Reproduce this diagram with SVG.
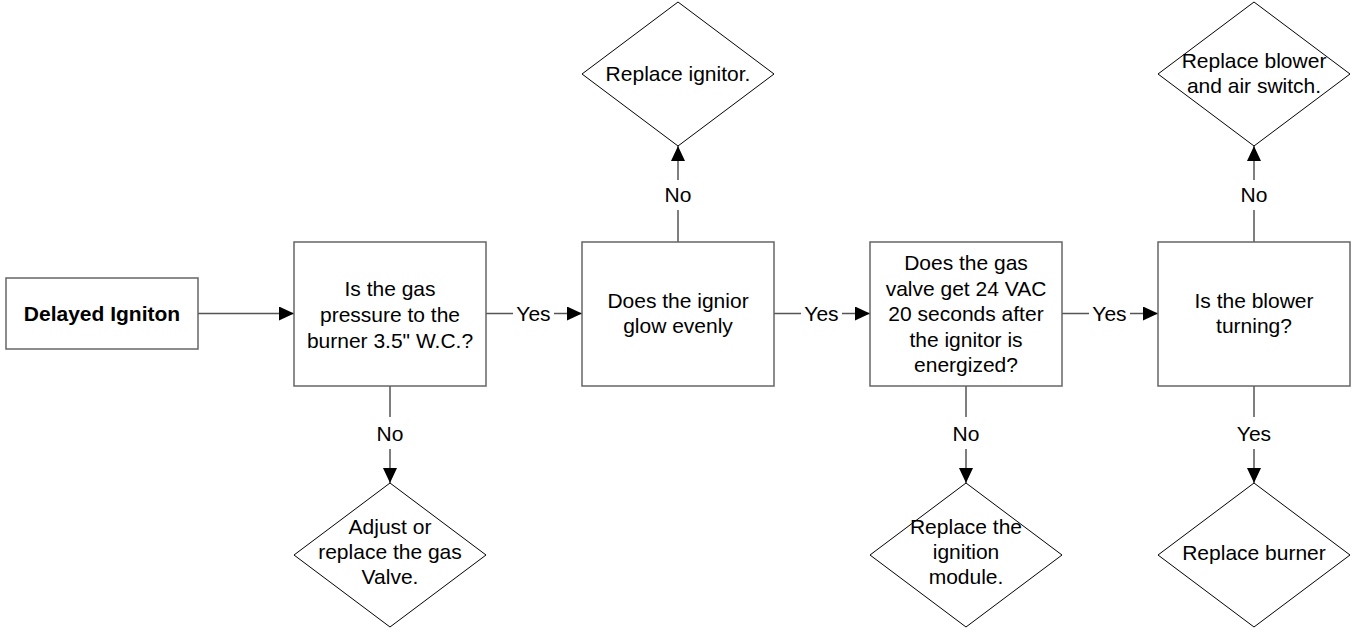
<svg xmlns="http://www.w3.org/2000/svg" width="1355" height="634" viewBox="0 0 1355 634">
<defs>
<marker id="ah" markerUnits="userSpaceOnUse" markerWidth="16" markerHeight="14" refX="15" refY="7" orient="auto">
<path d="M0,0 L15,7 L0,14 Z" fill="#000"/>
</marker>
</defs>
<style>
.box{fill:#fff;stroke:#666;stroke-width:1.5}
.dia{fill:#fff;stroke:#000;stroke-width:1}
.t{font-family:"Liberation Sans",Arial,sans-serif;font-size:21px;fill:#000;text-anchor:middle}
.b{font-weight:bold}
.c{fill:none;stroke:#555;stroke-width:1.5}
.ca{fill:none;stroke:#555;stroke-width:1.5;marker-end:url(#ah)}
</style>
<rect width="1355" height="634" fill="#fff"/>
<g id="connectors">
<path class="ca" d="M198,313.5 H294"/>
<path class="c" d="M486,313.5 H513"/>
<path class="ca" d="M554,313.5 H582"/>
<text class="t" x="533.5" y="321">Yes</text>
<path class="c" d="M774,313.5 H801"/>
<path class="ca" d="M842,313.5 H870"/>
<text class="t" x="821.5" y="321">Yes</text>
<path class="c" d="M1062,313.5 H1089"/>
<path class="ca" d="M1130,313.5 H1158"/>
<text class="t" x="1109.5" y="321">Yes</text>
<path class="c" d="M390,386 V417"/>
<path class="ca" d="M390,449 V483"/>
<text class="t" x="390" y="441">No</text>
<path class="c" d="M966,386 V417"/>
<path class="ca" d="M966,449 V483"/>
<text class="t" x="966" y="441">No</text>
<path class="c" d="M1254,386 V417"/>
<path class="ca" d="M1254,449 V483"/>
<text class="t" x="1254" y="441">Yes</text>
<path class="c" d="M678,242 V210"/>
<path class="ca" d="M678,180 V146"/>
<text class="t" x="678" y="202">No</text>
<path class="c" d="M1254,242 V210"/>
<path class="ca" d="M1254,180 V146"/>
<text class="t" x="1254" y="202">No</text>
</g>
<g id="start">
<rect class="box" x="6" y="278" width="192" height="71"/>
<text class="t b" x="102" y="320.5">Delayed Igniton</text>
</g>
<g id="q-gas-pressure">
<rect class="box" x="294" y="242" width="192" height="144"/>
<text class="t" x="390" y="295.5">Is the gas</text>
<text class="t" x="390" y="321.5">pressure to the</text>
<text class="t" x="390" y="347.5">burner 3.5" W.C.?</text>
</g>
<g id="q-ignitor-glow">
<rect class="box" x="582" y="242" width="192" height="144"/>
<text class="t" x="678" y="308">Does the ignior</text>
<text class="t" x="678" y="333">glow evenly</text>
</g>
<g id="q-gas-valve">
<rect class="box" x="870" y="242" width="192" height="144"/>
<text class="t" x="966" y="270">Does the gas</text>
<text class="t" x="966" y="295.5">valve get 24 VAC</text>
<text class="t" x="966" y="321">20 seconds after</text>
<text class="t" x="966" y="346.5">the ignitor is</text>
<text class="t" x="966" y="372">energized?</text>
</g>
<g id="q-blower">
<rect class="box" x="1158" y="242" width="192" height="144"/>
<text class="t" x="1254" y="308">Is the blower</text>
<text class="t" x="1254" y="333">turning?</text>
</g>
<g id="a-replace-ignitor">
<polygon class="dia" points="678,2 774,74 678,146 582,74"/>
<text class="t" x="678" y="81">Replace ignitor.</text>
</g>
<g id="a-replace-blower">
<polygon class="dia" points="1254,2 1350,74 1254,146 1158,74"/>
<text class="t" x="1254" y="67.5">Replace blower</text>
<text class="t" x="1254" y="92.5">and air switch.</text>
</g>
<g id="a-adjust-valve">
<polygon class="dia" points="390,483 486,555 390,627 294,555"/>
<text class="t" x="390" y="534">Adjust or</text>
<text class="t" x="390" y="559">replace the gas</text>
<text class="t" x="390" y="584">Valve.</text>
</g>
<g id="a-replace-module">
<polygon class="dia" points="966,483 1062,555 966,627 870,555"/>
<text class="t" x="966" y="534">Replace the</text>
<text class="t" x="966" y="559">ignition</text>
<text class="t" x="966" y="584">module.</text>
</g>
<g id="a-replace-burner">
<polygon class="dia" points="1254,483 1350,555 1254,627 1158,555"/>
<text class="t" x="1254" y="560">Replace burner</text>
</g>
</svg>
